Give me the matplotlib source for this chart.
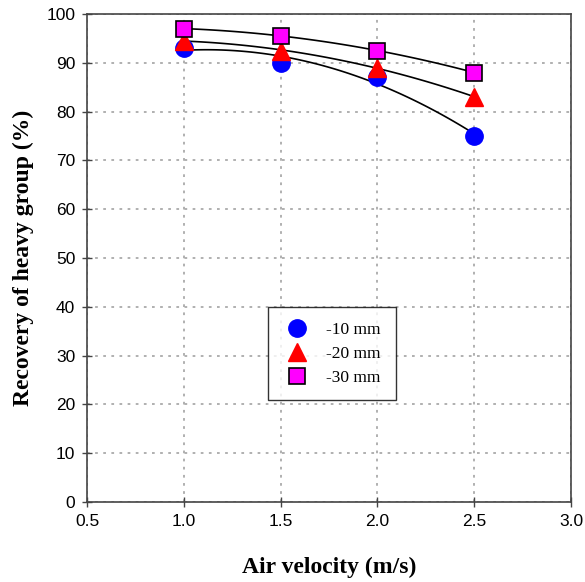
import numpy as np
import matplotlib
matplotlib.use("Agg")
import matplotlib.pyplot as plt

velocity = [1.0, 1.5, 2.0, 2.5]
rec_10mm = [93.0, 90.0, 87.0, 75.0]
rec_20mm = [94.5, 92.5, 89.0, 83.0]
rec_30mm = [97.0, 95.5, 92.5, 88.0]
labels = ["-10 mm", "-20 mm", "-30 mm"]

fig = plt.figure(figsize=(5.85, 5.82), dpi=100)
ax = fig.add_axes([0.149, 0.1375, 0.827, 0.8385])

styles = [
    dict(marker='o', color='blue', markersize=12.5, markeredgecolor='blue'),
    dict(marker='^', color='red', markersize=12.5, markeredgecolor='red'),
    dict(marker='s', color='magenta', markersize=11, markeredgecolor='black', markeredgewidth=1.2),
]

# second-order trend lines, like the spreadsheet version
xs = np.linspace(velocity[0], velocity[-1], 100)
for ys in (rec_10mm, rec_20mm, rec_30mm):
    c = np.polyfit(velocity, ys, 2)
    ax.plot(xs, np.polyval(c, xs), color='black', lw=1.2, zorder=2)

for ys, lab, st in zip((rec_10mm, rec_20mm, rec_30mm), labels, styles):
    ax.plot(velocity, ys, linestyle='none', label=lab, zorder=3, **st)

ax.set_xlim(0.5, 3.0)
ax.set_ylim(0, 100)
ax.set_xticks(np.arange(0.5, 3.01, 0.5))
ax.set_yticks(np.arange(0, 101, 10))
ax.set_xticklabels([f"{v:.1f}" for v in np.arange(0.5, 3.01, 0.5)])
ax.grid(True, linestyle=(0, (1.5, 3)), color='#aaaaaa', lw=1.3)
ax.set_axisbelow(True)

for sp in ax.spines.values():
    sp.set_color('#444444')
    sp.set_linewidth(1.2)
ax.tick_params(direction='inout', length=7, width=1, colors='#444444',
               labelcolor='black', labelsize=12.5, pad=5)
for t in ax.get_xticklabels() + ax.get_yticklabels():
    t.set_family('Liberation Sans')

ax.set_xlabel("Air velocity (m/s)", family='Liberation Serif', fontweight='bold',
              fontsize=17, labelpad=20)
ax.set_ylabel("Recovery of heavy group (%)", family='Liberation Serif', fontweight='bold',
              fontsize=17, labelpad=9)

leg = ax.legend(loc='upper left', bbox_to_anchor=(0.374, 0.40), borderaxespad=0,
                frameon=True, fancybox=False, edgecolor='black', borderpad=0.85,
                labelspacing=0.45, handlelength=1.6, handletextpad=0.9,
                prop={'family': 'Liberation Serif', 'size': 12.5})
leg.get_frame().set_linewidth(1.0)

fig.savefig("out.png", dpi=100)
